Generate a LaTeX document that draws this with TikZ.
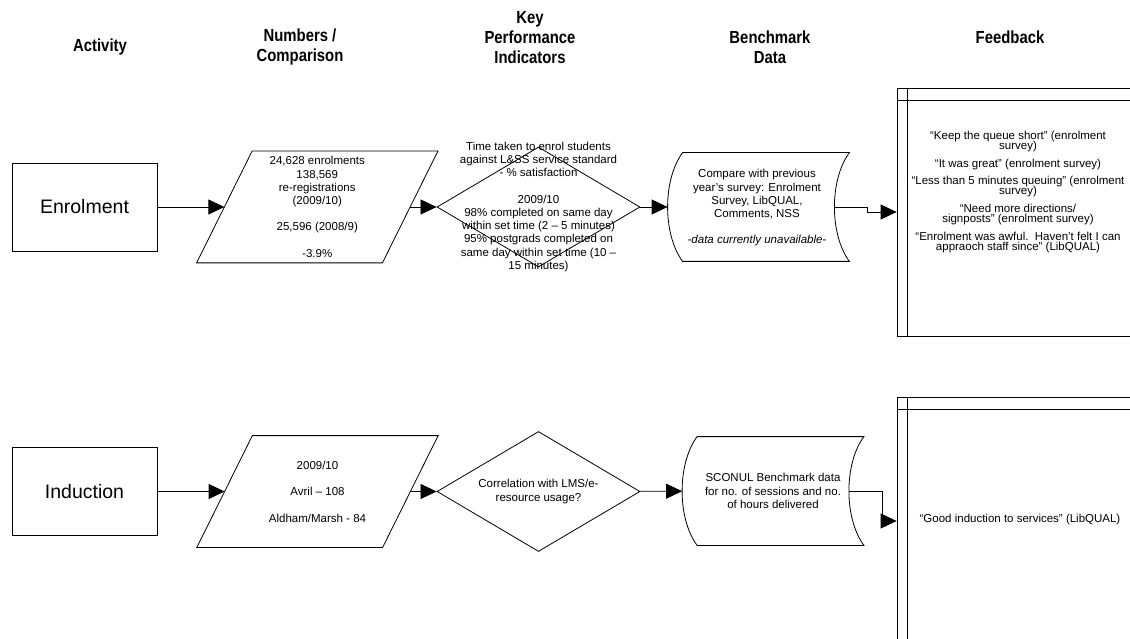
\documentclass[tikz,border=0pt]{standalone}
\usepackage{fontspec}
\setmainfont{Liberation Sans}
\newfontfamily\headfont[FakeStretch=0.85]{Liberation Sans}
\usetikzlibrary{positioning,arrows.meta,shapes.geometric}

\newcommand{\txt}{\fontsize{11.5}{13.2}\selectfont}
\newcommand{\fbtxt}{\fontsize{11.5}{10.2}\selectfont\lineskiplimit=-20pt\lineskip=0pt}
% parallelogram round an invisible node
\newcommand{\parashape}[1]{%
  \draw (#1.south west) -- ([xshift=-55.5pt]#1.south east) -- (#1.north east)
    -- ([xshift=55.5pt]#1.north west) -- cycle;}
% stored-data outline round an invisible node
\newcommand{\storedshape}[1]{%
  \draw ([xshift=15pt]#1.north west) -- (#1.north east)
    .. controls ([xshift=-20pt,yshift=-27pt]#1.north east) and ([xshift=-20pt,yshift=27pt]#1.south east) .. (#1.south east)
    -- ([xshift=15pt]#1.south west)
    .. controls ([xshift=-5pt,yshift=27pt]#1.south west) and ([xshift=-5pt,yshift=-27pt]#1.north west) .. cycle;}

\begin{document}
\begin{tikzpicture}[
  x=1pt, y=-1pt, line width=0.8pt,
  head/.style={font=\headfont\fontsize{17.5}{20}\selectfont\bfseries, align=center},
  activity/.style={rectangle, draw, minimum width=145pt, minimum height=88pt,
                   font=\fontsize{19.5}{23}\selectfont},
  numbers/.style={rectangle, minimum width=240.5pt, minimum height=111pt, inner sep=0pt},
  kpi/.style={diamond, draw, minimum width=203pt, minimum height=120pt, inner sep=0pt},
  bench/.style={rectangle, minimum width=181pt, minimum height=108pt, inner sep=0pt},
  feedback/.style={rectangle, draw, minimum width=236pt, minimum height=248pt, inner sep=0pt},
  label/.style={align=center, font=\txt, inner sep=0pt},
  arr/.style={-{Triangle[length=16pt,width=15pt]}, line width=0.8pt}
]
\useasboundingbox (0,0) rectangle (1130,639);
\clip (0,0) rectangle (1130,639);

% column heads
\node[head] (hact) at (100,47) {Activity};
\node[head] (hnum) at (300,47) {Numbers /\\Comparison};
\node[head] (hkpi) at (530,38) {Key\\Performance\\Indicators};
\node[head] (hbench) at (770,47) {Benchmark\\Data};
\node[head] (hfb) at (1010,37) {Feedback};

% enrolment row
\node[activity] (act1) at (84.5,207) {Enrolment};
\node[numbers] (num1) at (317.25,207) {};
\parashape{num1}
\node[label] (num1txt) at (num1) {24,628 enrolments\\138,569\\re-registrations\\(2009/10)\\[13.2pt]
  25,596 (2008/9)\\[13.2pt]-3.9\%};
\node[kpi] (kpi1) at (538.5,207) {};
\node[label] (kpi1txt) at (kpi1) {Time taken to enrol students\\against L\&SS service standard\\- \% satisfaction\\[13.2pt]
  2009/10\\98\% completed on same day\\within set time (2 – 5 minutes)\\95\% postgrads completed on\\same day within set time (10 –\\15 minutes)};
\node[bench] (bench1) at (758.5,207) {};
\storedshape{bench1}
\node[label] (bench1txt) at (757,208) {Compare with previous\\year’s survey: Enrolment\\Survey, LibQUAL,\\Comments, NSS\\[13.2pt]
  \itshape -data currently unavailable-};
\node[feedback] (fb1) at (1015,212) {};
\draw ([yshift=-12.5pt]fb1.north west) -- ([yshift=-12.5pt]fb1.north east);
\draw ([xshift=11pt]fb1.north west) -- ([xshift=11pt]fb1.south west);
\node[label, font=\fbtxt] (fb1txt) at (1018,192) {“Keep the queue short" (enrolment\\survey)\\[7.5pt]
  “It was great" (enrolment survey)\\[7.5pt]
  “Less than 5 minutes queuing" (enrolment\\survey)\\[7.5pt]
  “Need more directions/\\signposts" (enrolment survey)\\[7.5pt]
  “Enrolment was awful.\ \ Haven’t felt I can\\appraoch staff since" (LibQUAL)};

% induction row
\node[activity] (act2) at (84.5,491.5) {Induction};
\node[numbers] (num2) at (317.5,491.5) {};
\parashape{num2}
\node[label] (num2txt) at (num2) {2009/10\\[13.2pt]Avril – 108\\[13.2pt]Aldham/Marsh - 84};
\node[kpi] (kpi2) at (538.5,491.5) {};
\node[label] (kpi2txt) at (kpi2) {Correlation with LMS/e-\\resource usage?};
\node[bench] (bench2) at (773,491) {};
\storedshape{bench2}
\node[label] (bench2txt) at (bench2) {SCONUL Benchmark data\\for no. of sessions and no.\\of hours delivered};
\node[feedback] (fb2) at (1015,521) {};
\draw ([yshift=-12.5pt]fb2.north west) -- ([yshift=-12.5pt]fb2.north east);
\draw ([xshift=11pt]fb2.north west) -- ([xshift=11pt]fb2.south west);
\node[label] (fb2txt) at (1020,520) {“Good induction to services" (LibQUAL)};

% connectors
\draw[arr] (act1) -- ([xshift=27.75pt]num1.west);
\draw[arr] ([xshift=-27.75pt]num1.east) -- (kpi1);
\draw[arr] (kpi1) -- (bench1);
\draw[arr] ([xshift=-15pt]bench1.east) -- ++(33,0) |- (fb1.west);
\draw[arr] (act2) -- ([xshift=27.75pt]num2.west);
\draw[arr] ([xshift=-27.75pt]num2.east) -- (kpi2);
\draw[arr] (kpi2) -- (bench2);
\draw[arr] ([xshift=-15pt]bench2.east) -- ++(33,0) |- (fb2.west);
\end{tikzpicture}
\end{document}
